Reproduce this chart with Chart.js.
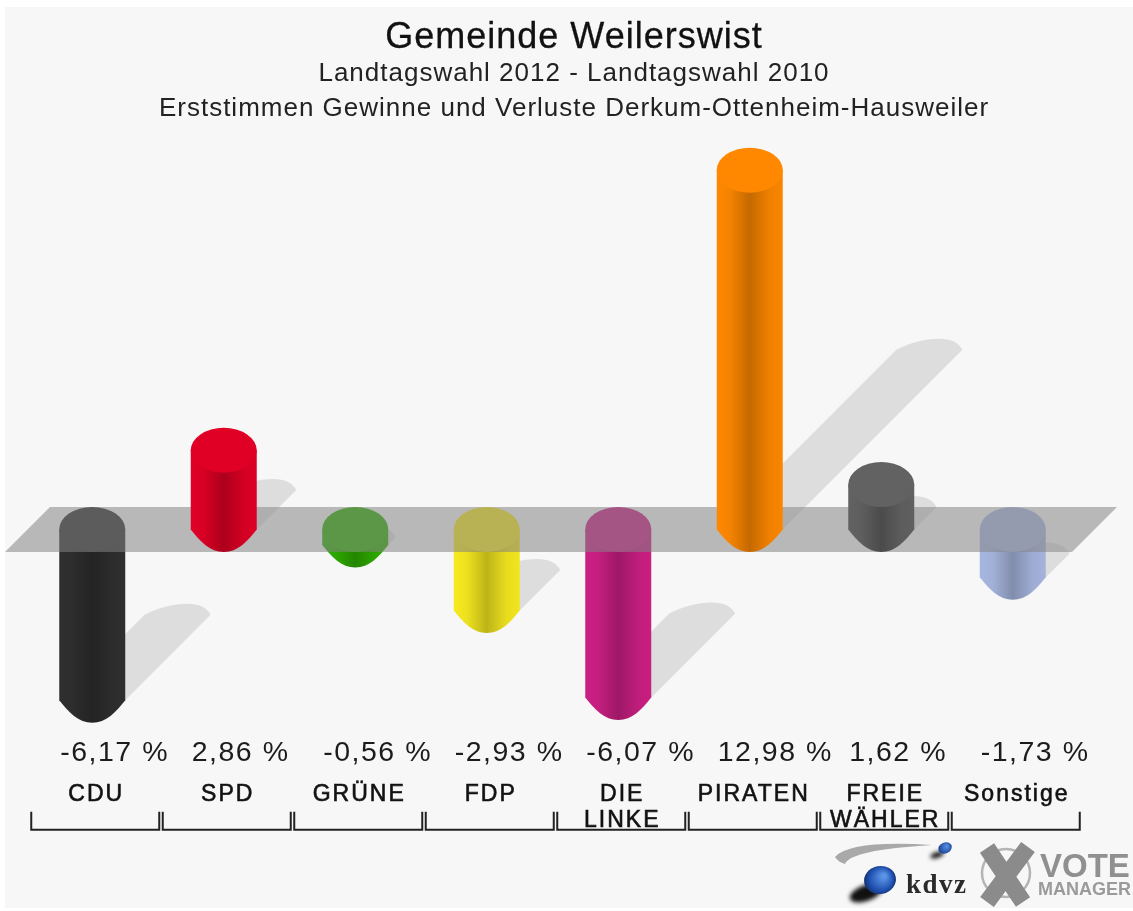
<!DOCTYPE html>
<html>
<head>
<meta charset="utf-8">
<title>Gemeinde Weilerswist</title>
<script src="https://cdn.jsdelivr.net/npm/chart.js@4"></script>
<style>
  html, body { margin: 0; padding: 0; background: #fff; width: 1133px; height: 911px; overflow: hidden; }
  #panel { position: absolute; left: 5px; top: 7px; right: 0; bottom: 3px; background: #f7f7f7; }
  #chart { position: absolute; left: 0; top: 0; filter: blur(0.7px); }
  .head { position: absolute; left: 0; width: 1148px; text-align: center; color: #222; white-space: nowrap; font-family: "Liberation Sans", sans-serif; letter-spacing: 1px; filter: blur(0.6px); }
  #title { top: 16px; font-size: 36px; line-height: 40px; color: #111; -webkit-text-stroke: 0.3px #111; }
  #sub1 { top: 57px; font-size: 26px; line-height: 30px; }
  #sub2 { top: 92px; font-size: 26px; line-height: 30px; }
</style>
</head>
<body>
<div id="panel"></div>
<div class="head" id="title">Gemeinde Weilerswist</div>
<div class="head" id="sub1">Landtagswahl 2012 - Landtagswahl 2010</div>
<div class="head" id="sub2">Erststimmen Gewinne und Verluste Derkum-Ottenheim-Hausweiler</div>
<canvas id="chart" width="1133" height="911"></canvas>
<script>
const parties = ["CDU", "SPD", "GRÜNE", "FDP", ["DIE", "LINKE"], "PIRATEN", ["FREIE", "WÄHLER"], "Sonstige"];
const changes = [-6.17, 2.86, -0.56, -2.93, -6.07, 12.98, 1.62, -1.73];
const changeLabels = ["-6,17 %", "2,86 %", "-0,56 %", "-2,93 %", "-6,07 %", "12,98 %", "1,62 %", "-1,73 %"];
const partyColors = ["#2f2f2f", "#e00025", "#2fae00", "#f7ea1f", "#cc1f84", "#ff8800", "#626262", "#a8b7e0"];

const capHeight = 22.5; // half height of the ellipse on top of each cylinder

const darken = (hex, factor) => {
  const num = parseInt(hex.slice(1), 16);
  const r = Math.round((num >> 16) * factor);
  const g = Math.round(((num >> 8) & 255) * factor);
  const b = Math.round((num & 255) * factor);
  return `rgb(${r}, ${g}, ${b})`;
};

const drawShadow = (ctx, bar, radius) => {
  const low = Math.max(bar.y, bar.base);
  const shift = Math.abs(bar.base - bar.y) / 2;
  const endX = bar.x + shift;
  const endY = low - shift;
  ctx.fillStyle = "rgba(0, 0, 0, 0.1)";
  ctx.beginPath();
  ctx.moveTo(endX - radius, endY);
  // the far end leans to the right, it is no clean half ellipse
  ctx.bezierCurveTo(endX - radius + 14, endY - 7, endX - 6, endY - 11, endX + 10, endY - 11);
  ctx.quadraticCurveTo(endX + radius - 6, endY - 11, endX + radius, endY);
  ctx.lineTo(bar.x + radius, low);
  ctx.lineTo(bar.x - radius, low);
  ctx.closePath();
  ctx.fill();
};

const drawCylinder = (ctx, bar, radius) => {
  const color = bar.options.backgroundColor;
  const top = Math.min(bar.y, bar.base);
  const low = Math.max(bar.y, bar.base);

  const body = ctx.createLinearGradient(bar.x - radius, 0, bar.x + radius, 0);
  body.addColorStop(0, darken(color, 1));
  body.addColorStop(0.2, darken(color, 0.96));
  body.addColorStop(0.5, darken(color, 0.77));
  body.addColorStop(0.8, darken(color, 0.94));
  body.addColorStop(1, darken(color, 0.98));

  ctx.fillStyle = body;
  ctx.beginPath();
  ctx.moveTo(bar.x - radius, top);
  ctx.lineTo(bar.x + radius, top);
  ctx.lineTo(bar.x + radius, low);
  // the foot is between a chamfer and an ellipse
  ctx.bezierCurveTo(bar.x + radius * 0.72, low + capHeight * 0.52, bar.x + radius * 0.42, low + capHeight, bar.x, low + capHeight);
  ctx.bezierCurveTo(bar.x - radius * 0.42, low + capHeight, bar.x - radius * 0.72, low + capHeight * 0.52, bar.x - radius, low);
  ctx.closePath();
  ctx.fill();

  ctx.fillStyle = color;
  ctx.beginPath();
  ctx.ellipse(bar.x, top, radius, capHeight, 0, 0, Math.PI * 2);
  ctx.fill();
};

const drawPlane = (chart) => {
  const { ctx, chartArea, scales } = chart;
  const zero = scales.y.getPixelForValue(0);
  ctx.fillStyle = "rgba(131, 131, 131, 0.54)";
  ctx.beginPath();
  ctx.moveTo(chartArea.left - 21.5, zero + capHeight);
  ctx.lineTo(chartArea.left + 23.5, zero - capHeight);
  ctx.lineTo(chartArea.right + 38.5, zero - capHeight);
  ctx.lineTo(chartArea.right - 6.5, zero + capHeight);
  ctx.closePath();
  ctx.fill();
};

const drawLogos = (ctx) => {
  ctx.save();
  ctx.letterSpacing = "0px";
  ctx.textBaseline = "alphabetic";

  // kdvz
  ctx.fillStyle = "#a9a9a9";
  ctx.beginPath();
  ctx.moveTo(932, 845);
  ctx.quadraticCurveTo(850, 840, 835, 857);
  ctx.quadraticCurveTo(838, 862, 845, 864);
  ctx.quadraticCurveTo(850, 850, 932, 845);
  ctx.fill();

  ctx.save();
  ctx.filter = "blur(2px)";
  ctx.fillStyle = "#111";
  ctx.beginPath();
  ctx.ellipse(866, 893, 17, 8, -0.35, 0, Math.PI * 2);
  ctx.ellipse(937, 855, 7, 3, -0.3, 0, Math.PI * 2);
  ctx.fill();
  ctx.restore();

  const bigBall = ctx.createRadialGradient(884, 876, 2, 880, 880, 16);
  bigBall.addColorStop(0, "#5a94e6");
  bigBall.addColorStop(0.7, "#2050b0");
  bigBall.addColorStop(1, "#14306e");
  ctx.fillStyle = bigBall;
  ctx.beginPath();
  ctx.ellipse(880, 880, 16, 14, -0.2, 0, Math.PI * 2);
  ctx.fill();

  const smallBall = ctx.createRadialGradient(947, 846, 1, 945, 848, 7);
  smallBall.addColorStop(0, "#4f8be0");
  smallBall.addColorStop(1, "#1c3f8c");
  ctx.fillStyle = smallBall;
  ctx.beginPath();
  ctx.ellipse(945, 848, 7, 5.5, -0.4, 0, Math.PI * 2);
  ctx.fill();

  ctx.fillStyle = "#2a2a2a";
  ctx.font = 'bold 27px "Liberation Serif", serif';
  ctx.letterSpacing = "1.5px";
  ctx.textAlign = "left";
  ctx.fillText("kdvz", 906, 893);
  ctx.letterSpacing = "0px";

  // vote manager
  ctx.strokeStyle = "#b4b4b4";
  ctx.lineWidth = 2.5;
  ctx.beginPath();
  ctx.arc(1006, 873, 24, 0, Math.PI * 2);
  ctx.stroke();

  ctx.strokeStyle = "#8b8b8b";
  ctx.lineWidth = 17;
  ctx.beginPath();
  ctx.moveTo(987, 848);
  ctx.lineTo(1023, 902);
  ctx.moveTo(1028, 847);
  ctx.lineTo(987, 902);
  ctx.stroke();

  ctx.fillStyle = "#909090";
  ctx.font = 'bold 33px "Liberation Sans", sans-serif';
  ctx.fillText("VOTE", 1040, 877);
  ctx.fillStyle = "#9a9a9a";
  ctx.font = 'bold 18px "Liberation Sans", sans-serif';
  ctx.fillText("MANAGER", 1038, 895);
  ctx.restore();
};

const cylinderPlugin = {
  id: "cylinders",
  beforeDraw(chart) {
    // tick labels in the original are spaced out a little
    chart.ctx.letterSpacing = "2px";
  },
  beforeDatasetsDraw(chart) {
    const { ctx } = chart;
    const bars = chart.getDatasetMeta(0).data;
    const radius = bars[0].width / 2;

    bars.forEach((bar) => drawShadow(ctx, bar, radius));
    bars.filter((bar, i) => changes[i] < 0).forEach((bar) => drawCylinder(ctx, bar, radius));
    drawPlane(chart);
    bars.filter((bar, i) => changes[i] >= 0).forEach((bar) => drawCylinder(ctx, bar, radius));
    return false; // native flat bars are not wanted
  },
  afterDraw(chart) {
    const { ctx, scales } = chart;
    const bars = chart.getDatasetMeta(0).data;

    ctx.save();
    ctx.fillStyle = "#1c1c1c";
    ctx.font = '28.5px "Liberation Sans", sans-serif';
    ctx.letterSpacing = "1.5px";
    ctx.textAlign = "left";
    ctx.textBaseline = "middle";
    bars.forEach((bar, i) => {
      ctx.fillText(changeLabels[i], bar.x - bar.width / 2 + 1, scales.x.top - 12);
    });

    // brackets under every party
    ctx.strokeStyle = "#222";
    ctx.lineWidth = 2;
    bars.forEach((bar) => {
      ctx.beginPath();
      ctx.moveTo(bar.x - 61, scales.x.top + 47);
      ctx.lineTo(bar.x - 61, scales.x.top + 65);
      ctx.lineTo(bar.x + 67, scales.x.top + 65);
      ctx.lineTo(bar.x + 67, scales.x.top + 47);
      ctx.stroke();
    });
    ctx.restore();

    drawLogos(ctx);
  },
};

new Chart(document.getElementById("chart"), {
  type: "bar",
  data: {
    labels: parties,
    datasets: [
      {
        data: changes,
        backgroundColor: partyColors,
        barThickness: 66,
      },
    ],
  },
  plugins: [cylinderPlugin],
  options: {
    responsive: false,
    animation: false,
    layout: {
      padding: { left: 26.5, right: 54.5, top: 142, bottom: 0 },
    },
    plugins: {
      legend: { display: false },
      title: { display: false },
      tooltip: { enabled: false },
    },
    scales: {
      x: {
        afterFit: (scale) => {
          scale.height = 146.3;
        },
        grid: { display: false },
        border: { display: false },
        ticks: {
          color: "#111",
          textStrokeColor: "#111",
          textStrokeWidth: 0.6,
          padding: 9,
          labelOffset: 4,
          maxRotation: 0,
          autoSkip: false,
          font: { family: "Liberation Sans", size: 23, lineHeight: 1.13 },
        },
      },
      y: {
        display: false,
        min: -8.5,
        max: 14,
      },
    },
  },
});
</script>
</body>
</html>
